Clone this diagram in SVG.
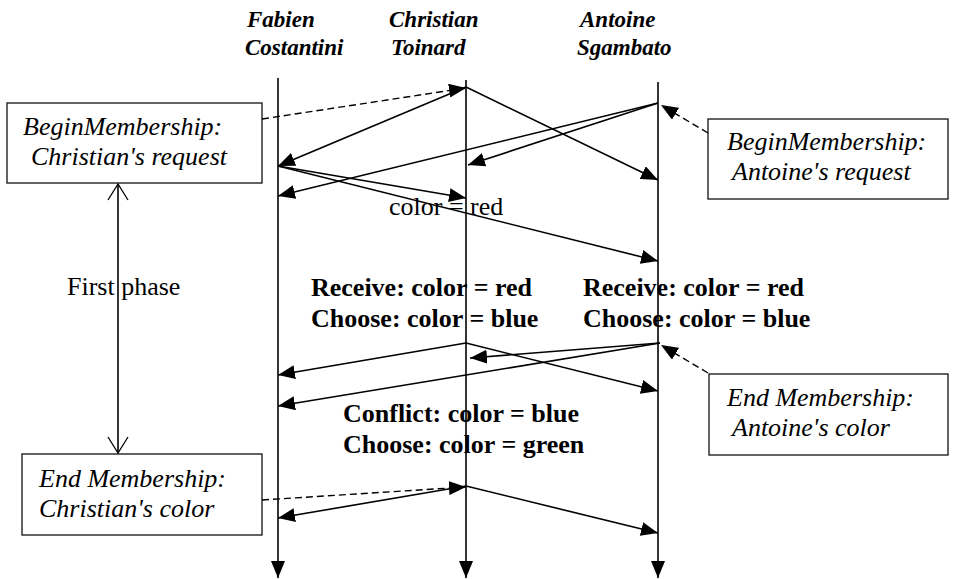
<svg xmlns="http://www.w3.org/2000/svg" width="960" height="579" viewBox="0 0 960 579">
  <style>
    .hdr { font-family: "Liberation Serif", "Times New Roman", serif; font-size: 23px; font-weight: bold; font-style: italic; fill: #000; }
    .box { fill: #fff; stroke: #222; stroke-width: 1.4; }
    .boxtxt { font-family: "Liberation Serif", "Times New Roman", serif; font-size: 26px; font-style: italic; fill: #000; }
    .txt { font-family: "Liberation Serif", "Times New Roman", serif; font-size: 26px; fill: #000; }
    .btxt { font-family: "Liberation Serif", "Times New Roman", serif; font-size: 26px; font-weight: bold; fill: #000; }
    .life { stroke: #000; stroke-width: 1.6; fill: none; }
    .msg { stroke: #000; stroke-width: 1.6; fill: none; marker-end: url(#arrow); }
    .note { stroke: #000; stroke-width: 1.4; fill: none; stroke-dasharray: 7 4; marker-end: url(#arrow); }
  </style>
  <defs>
    <marker id="arrow" markerUnits="userSpaceOnUse" markerWidth="17" markerHeight="14" refX="17" refY="7" orient="auto">
      <path d="M0,0 L17,7 L0,14 z" fill="#000"/>
    </marker>
    <marker id="open" markerUnits="userSpaceOnUse" markerWidth="18" markerHeight="22" refX="17" refY="11" orient="auto-start-reverse">
      <path d="M1,1 L17,11 L1,21" fill="none" stroke="#000" stroke-width="1.3"/>
    </marker>
  </defs>

  <!-- participants -->
  <g id="fabien">
    <text class="hdr" x="247" y="27">Fabien</text>
    <text class="hdr" x="245" y="55">Costantini</text>
    <line class="life" x1="278" y1="78" x2="278" y2="578" marker-end="url(#arrow)"/>
  </g>
  <g id="christian">
    <text class="hdr" x="389" y="27">Christian</text>
    <text class="hdr" x="391" y="55">Toinard</text>
    <line class="life" x1="466" y1="80" x2="466" y2="578" marker-end="url(#arrow)"/>
  </g>
  <g id="antoine">
    <text class="hdr" x="580" y="27">Antoine</text>
    <text class="hdr" x="577" y="55">Sgambato</text>
    <line class="life" x1="658" y1="82" x2="658" y2="578" marker-end="url(#arrow)"/>
  </g>

  <!-- annotation boxes -->
  <g id="begin-christian">
    <rect class="box" x="7" y="103" width="255" height="80"/>
    <text class="boxtxt" x="23" y="135">BeginMembership:</text>
    <text class="boxtxt" x="31" y="165">Christian's request</text>
  </g>
  <g id="begin-antoine">
    <rect class="box" x="708" y="119" width="240" height="80"/>
    <text class="boxtxt" x="727" y="150">BeginMembership:</text>
    <text class="boxtxt" x="732" y="180">Antoine's request</text>
  </g>
  <g id="end-antoine">
    <rect class="box" x="709" y="374" width="239" height="81"/>
    <text class="boxtxt" x="727" y="406">End Membership:</text>
    <text class="boxtxt" x="732" y="436">Antoine's color</text>
  </g>
  <g id="end-christian">
    <rect class="box" x="22" y="454" width="240" height="81"/>
    <text class="boxtxt" x="39" y="487">End Membership:</text>
    <text class="boxtxt" x="39" y="517">Christian's color</text>
  </g>

  <!-- phase span -->
  <g id="first-phase">
    <line class="life" x1="118" y1="184" x2="118" y2="453" stroke-width="1.3" marker-start="url(#open)" marker-end="url(#open)"/>
    <text class="txt" x="67" y="295">First phase</text>
  </g>

  <!-- state labels -->
  <g id="labels">
    <text class="txt" x="389" y="215">color = red</text>
    <text class="btxt" x="311" y="296">Receive: color = red</text>
    <text class="btxt" x="311" y="327">Choose: color = blue</text>
    <text class="btxt" x="583" y="296">Receive: color = red</text>
    <text class="btxt" x="583" y="327">Choose: color = blue</text>
    <text class="btxt" x="343" y="422">Conflict: color = blue</text>
    <text class="btxt" x="343" y="453">Choose: color = green</text>
  </g>

  <!-- connectors -->
  <g id="connectors">
    <!-- request phase -->
    <line class="note" x1="262" y1="119" x2="466" y2="88"/>
    <line class="msg" x1="466" y1="87" x2="278" y2="166"/>
    <line class="msg" x1="466" y1="87" x2="658" y2="180"/>
    <line class="note" x1="708" y1="133" x2="661" y2="105"/>
    <line class="msg" x1="658" y1="103" x2="278" y2="196"/>
    <line class="msg" x1="658" y1="103" x2="468" y2="165"/>
    <line class="msg" x1="278" y1="166" x2="466" y2="198"/>
    <line class="msg" x1="278" y1="166" x2="658" y2="261"/>
    <!-- colour phase -->
    <line class="msg" x1="466" y1="343" x2="278" y2="375"/>
    <line class="msg" x1="466" y1="343" x2="658" y2="391"/>
    <line class="note" x1="708" y1="373" x2="661" y2="345"/>
    <line class="msg" x1="660" y1="343" x2="470" y2="358"/>
    <line class="msg" x1="660" y1="343" x2="278" y2="406"/>
    <!-- end phase -->
    <line class="note" x1="262" y1="500" x2="466" y2="487"/>
    <line class="msg" x1="466" y1="486" x2="278" y2="518"/>
    <line class="msg" x1="466" y1="486" x2="658" y2="533"/>
  </g>
</svg>
